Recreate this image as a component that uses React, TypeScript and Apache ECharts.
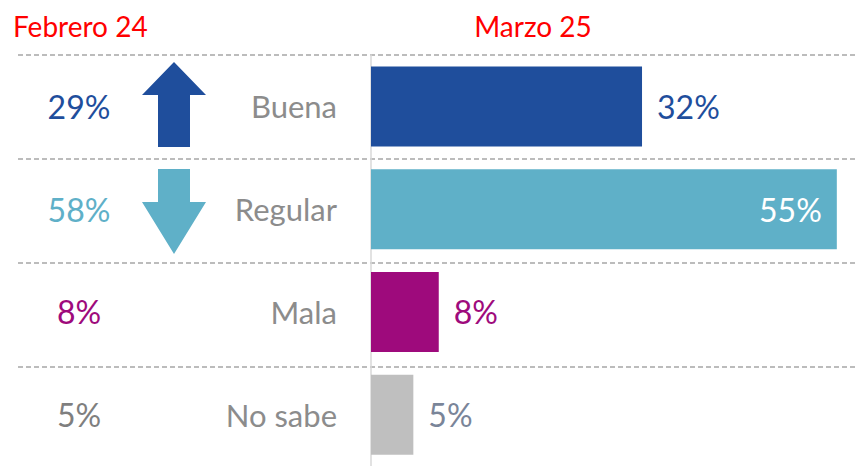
import React, { useEffect, useRef } from "react";
import * as echarts from "echarts";

const categories = ["Buena", "Regular", "Mala", "No sabe"];
const currentValues = [32, 55, 8, 5];
const previousValues = [29, 58, 8, 5];
const barColors = ["#1f4e9c", "#5fb0c8", "#9e0a7c", "#bfbfbf"];
const labelColors = ["#1f4e9c", "#ffffff", "#9e0a7c", "#7a8599"];
const prevColors = ["#1f4e9c", "#5fb0c8", "#9e0a7c", "#7f7f7f"];
const titles = ["Febrero 24", "Marzo 25"];

const FONT = "Lato, 'Open Sans', sans-serif";

export default function App() {
  const ref = useRef<HTMLDivElement>(null);
  useEffect(() => {
    const chart = echarts.init(ref.current!, null, { renderer: "svg" });
    const rich: Record<string, any> = {
      g: { width: 58 },
      c: { width: 150, align: "right", color: "#8c8c8c", fontSize: 31, fontFamily: FONT },
    };
    prevColors.forEach((col, i) => {
      rich["v" + i] = { width: 100, align: "center", color: col, fontSize: 32, fontFamily: FONT };
    });
    chart.setOption({
      animation: false,
      textStyle: { fontFamily: FONT },
      title: [
        { text: titles[0], left: 8, top: 7, textStyle: { color: "#ff0000", fontSize: 28, fontWeight: "normal", fontFamily: FONT } },
        { text: titles[1], left: 528, textAlign: "center", top: 7, textStyle: { color: "#ff0000", fontSize: 28, fontWeight: "normal", fontFamily: FONT } },
      ],
      grid: [
        { left: 18, right: 0, top: 55, height: 312 },
        { left: 371, top: 55, width: 490, height: 416 },
      ],
      xAxis: [
        { type: "value", gridIndex: 0, show: false, min: 0, max: 100, splitLine: { show: false } },
        { type: "value", gridIndex: 1, show: false, min: 0, max: 57.5, splitLine: { show: false } },
      ],
      yAxis: [
        {
          type: "category",
          gridIndex: 0,
          data: categories,
          min: 0,
          max: categories.length - 2,
          inverse: true,
          axisLine: { show: false },
          axisTick: { show: false },
          axisLabel: { show: false },
          splitLine: {
            show: true,
            interval: 0,
            lineStyle: { color: "#a6a6a6", width: 1.5, type: [5, 3] },
          },
        },
        {
          type: "category",
          gridIndex: 1,
          data: categories,
          inverse: true,
          axisLine: { show: true, lineStyle: { color: "#d9d9d9", width: 1.5 } },
          axisTick: { show: false },
          splitLine: { show: false },
          axisLabel: {
            margin: 34,
            formatter: (val: string, idx: number) =>
              `{v${idx}|${previousValues[idx]}%}{g|}{c|${val}}`,
            rich,
          },
        },
      ],
      series: [
        {
          type: "bar",
          xAxisIndex: 1,
          yAxisIndex: 1,
          barWidth: 80,
          data: currentValues.map((v, i) => ({
            value: v,
            itemStyle: { color: barColors[i] },
            label: {
              show: true,
              position: i === 1 ? "insideRight" : "right",
              distance: 15,
              color: labelColors[i],
              fontSize: 32,
              fontFamily: FONT,
              formatter: "{c}%",
            },
          })),
        },
      ],
      graphic: [
        {
          type: "polygon",
          shape: { points: [[174, 62], [206, 95], [190, 95], [190, 147], [158, 147], [158, 95], [142, 95]] },
          style: { fill: "#1f4e9c" },
        },
        {
          type: "polygon",
          shape: { points: [[158, 169], [190, 169], [190, 202], [206, 202], [174, 254], [142, 202], [158, 202]] },
          style: { fill: "#5fb0c8" },
        },
      ],
    });
    return () => chart.dispose();
  }, []);
  return <div ref={ref} style={{ width: 858, height: 466, position: "absolute", left: 0, top: 0 }} />;
}
